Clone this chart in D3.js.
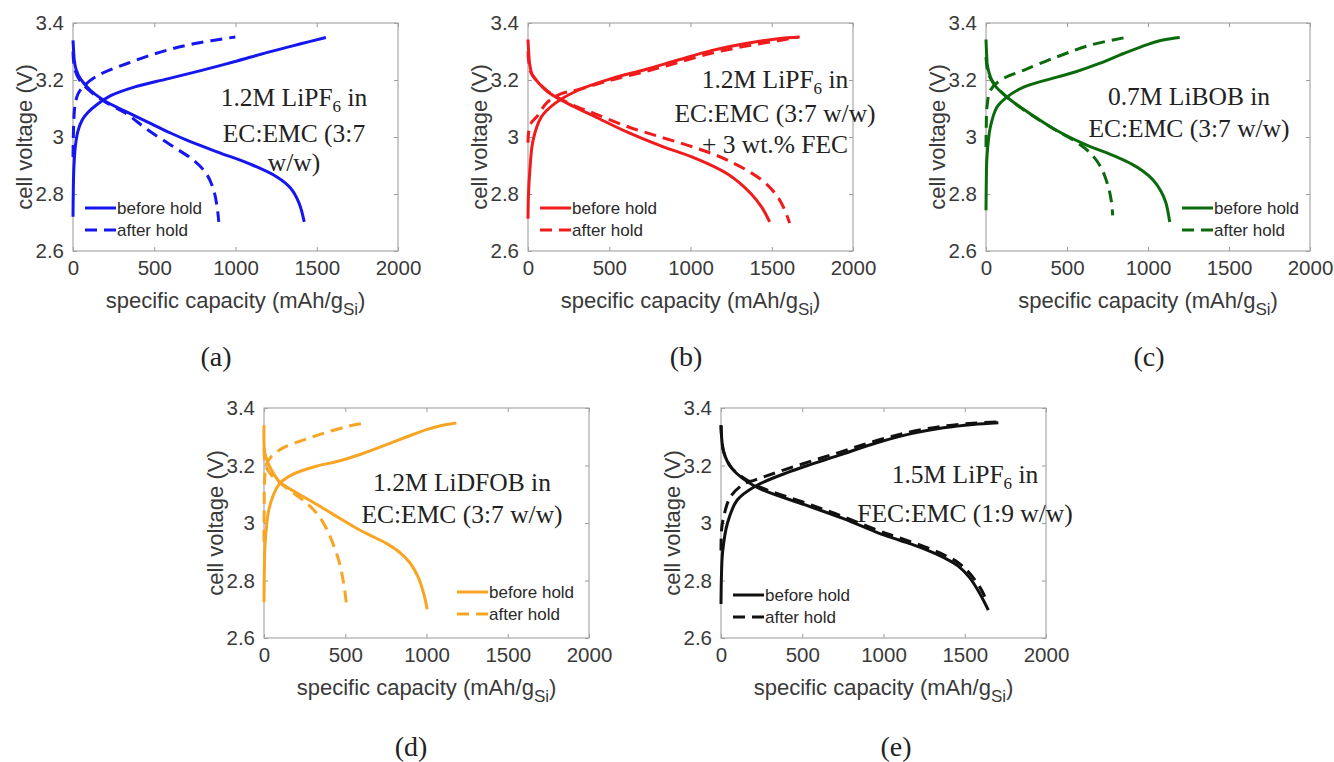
<!DOCTYPE html>
<html><head><meta charset="utf-8">
<script src="https://cdn.jsdelivr.net/npm/d3@7"></script>
<style>body{margin:0;background:#fff}svg{display:block}</style>
</head><body><svg id="chart" width="1334" height="762"></svg>
<script>
// ---------- tick values & labels ----------
const xTicks = [0, 500, 1000, 1500, 2000];
const yTicks = [2.6, 2.8, 3.0, 3.2, 3.4];
const panelLetters = ["(a)", "(b)", "(c)", "(d)", "(e)"];
const seriesNames = ["before hold", "after hold"];
const xTitle = "specific capacity (mAh/g{Si})";
const yTitle = "cell voltage (V)";

// ---------- annotations ({} = subscript) ----------
const aNote = ["1.2M LiPF{6} in", "EC:EMC (3:7", "w/w)"];
const bNote = ["1.2M LiPF{6} in", "EC:EMC (3:7 w/w)", "+ 3 wt.% FEC"];
const cNote = ["0.7M LiBOB in", "EC:EMC (3:7 w/w)"];
const dNote = ["1.2M LiDFOB in", "EC:EMC (3:7 w/w)"];
const eNote = ["1.5M LiPF{6} in", "FEC:EMC (1:9 w/w)"];

// ---------- data: [capacity mAh/g, voltage V] ----------
// (a) 1.2M LiPF6 in EC:EMC
const aBeforeCharge = [[0,2.72],[2,2.82],[6,2.9],[15,2.97],[30,3.02],[55,3.058],[90,3.085],[150,3.115],[232,3.145],[376,3.175],[581,3.204],[786,3.233],[992,3.264],[1197,3.297],[1402,3.327],[1556,3.349]];
const aBeforeDischarge = [[0,3.339],[4,3.30],[8,3.269],[20,3.235],[45,3.205],[107,3.164],[189,3.129],[333,3.087],[497,3.042],[600,3.014],[700,2.989],[886,2.948],[1091,2.905],[1255,2.86],[1337,2.822],[1390,2.77],[1423,2.702]];
const aAfterCharge = [[0,2.93],[4,3.04],[12,3.11],[30,3.15],[60,3.175],[148,3.214],[333,3.258],[538,3.298],[742,3.327],[999,3.351]];
const aAfterDischarge = [[0,3.30],[10,3.24],[40,3.20],[107,3.16],[189,3.126],[333,3.08],[457,3.026],[620,2.965],[743,2.918],[820,2.872],[865,2.815],[887,2.754],[897,2.702]];
// (b) 1.2M LiPF6 + 3% FEC
const bBeforeCharge = [[0,2.713],[3,2.80],[10,2.871],[31,2.988],[82,3.07],[164,3.117],[308,3.164],[513,3.205],[718,3.236],[923,3.27],[1128,3.303],[1333,3.327],[1538,3.345],[1672,3.351]];
const bBeforeDischarge = [[0,3.342],[4,3.30],[10,3.257],[25,3.22],[51,3.199],[123,3.158],[246,3.117],[410,3.072],[615,3.016],[821,2.968],[1026,2.926],[1231,2.869],[1374,2.80],[1440,2.752],[1487,2.702]];
const bAfterCharge = [[0,2.98],[5,3.02],[20,3.05],[52,3.07],[121,3.123],[205,3.152],[308,3.166],[513,3.2],[718,3.229],[923,3.261],[1128,3.294],[1333,3.318],[1538,3.338],[1660,3.35]];
const bAfterDischarge = [[0,3.30],[15,3.23],[51,3.2],[123,3.16],[246,3.12],[410,3.082],[615,3.036],[821,2.999],[1026,2.963],[1231,2.918],[1436,2.85],[1530,2.795],[1579,2.745],[1610,2.698]];
// (c) 0.7M LiBOB
const cBeforeCharge = [[0,2.743],[2,2.85],[6,2.93],[27,3.035],[68,3.105],[129,3.14],[232,3.175],[437,3.21],[550,3.228],[700,3.258],[850,3.293],[1000,3.325],[1100,3.341],[1196,3.349]];
const cBeforeDischarge = [[0,3.342],[4,3.29],[10,3.246],[47,3.187],[129,3.14],[273,3.082],[437,3.023],[601,2.977],[806,2.93],[900,2.905],[970,2.88],[1030,2.85],[1080,2.81],[1110,2.77],[1134,2.702]];
const cAfterCharge = [[0,2.965],[2,3.05],[6,3.105],[27,3.164],[88,3.199],[232,3.234],[437,3.281],[642,3.322],[878,3.351]];
const cAfterDischarge = [[0,3.28],[15,3.22],[47,3.19],[129,3.14],[273,3.08],[437,3.022],[550,2.985],[642,2.945],[710,2.893],[755,2.825],[775,2.77],[782,2.725]];
// (d) 1.2M LiDFOB
const dBeforeCharge = [[0,2.724],[2,2.83],[6,2.92],[27,3.038],[57,3.096],[98,3.138],[180,3.17],[324,3.198],[450,3.214],[600,3.24],[734,3.268],[880,3.3],[1000,3.325],[1100,3.34],[1184,3.348]];
const dBeforeDischarge = [[0,3.34],[6,3.241],[37,3.194],[98,3.142],[201,3.105],[324,3.065],[426,3.03],[550,2.988],[650,2.958],[750,2.93],[830,2.90],[900,2.86],[950,2.81],[985,2.75],[1004,2.70]];
const dAfterCharge = [[0,2.935],[1,3.05],[4,3.15],[12,3.2],[40,3.228],[120,3.262],[250,3.29],[400,3.318],[530,3.338],[631,3.348]];
const dAfterDischarge = [[0,3.26],[10,3.2],[40,3.17],[98,3.14],[180,3.105],[260,3.07],[330,3.03],[385,2.98],[430,2.92],[465,2.86],[490,2.79],[505,2.73],[510,2.70]];
// (e) 1.5M LiPF6 in FEC:EMC
const eBeforeCharge = [[0,2.718],[3,2.82],[10,2.9],[40,3.0],[100,3.08],[211,3.128],[416,3.177],[724,3.235],[959,3.279],[1164,3.31],[1369,3.331],[1550,3.343],[1707,3.349]];
const eBeforeDischarge = [[0,3.34],[5,3.29],[16,3.247],[68,3.189],[211,3.127],[519,3.063],[754,3.015],[970,2.965],[1100,2.94],[1250,2.91],[1369,2.88],[1460,2.85],[1530,2.81],[1594,2.753],[1645,2.697]];
const eAfterCharge = [[0,2.904],[4,2.98],[16,3.02],[57,3.09],[139,3.135],[211,3.15],[416,3.19],[724,3.245],[959,3.287],[1164,3.317],[1369,3.337],[1550,3.347],[1697,3.351]];
const eAfterDischarge = [[0,3.34],[16,3.25],[68,3.19],[211,3.133],[519,3.07],[754,3.022],[970,2.973],[1100,2.948],[1250,2.918],[1369,2.89],[1460,2.862],[1530,2.825],[1600,2.77],[1630,2.735]];

const panelColors = ["#1616ee", "#f01c1c", "#0b6a0b", "#f7a523", "#111111"];

// ---------- layout ----------
const layout = [
  {x:73,  y:23,  w:325, h:228, noteX:294,  noteY:[106,142,171], legX:85,   legY:208, labX:216, labY:366},
  {x:528, y:23,  w:325, h:228, noteX:775,  noteY:[88,122,153],  legX:540,  legY:208, labX:686, labY:366},
  {x:986, y:23,  w:324, h:228, noteX:1189, noteY:[105,137],     legX:1182, legY:208, labX:1149, labY:366},
  {x:264, y:408, w:325, h:230, noteX:462,  noteY:[491,523],     legX:457,  legY:592, labX:411, labY:756},
  {x:721, y:408, w:325, h:230, noteX:965,  noteY:[483,522],     legX:733,  legY:595, labX:896, labY:756}
];

const panels = [
  {before:[aBeforeCharge,aBeforeDischarge], after:[aAfterCharge,aAfterDischarge], note:aNote},
  {before:[bBeforeCharge,bBeforeDischarge], after:[bAfterCharge,bAfterDischarge], note:bNote},
  {before:[cBeforeCharge,cBeforeDischarge], after:[cAfterCharge,cAfterDischarge], note:cNote},
  {before:[dBeforeCharge,dBeforeDischarge], after:[dAfterCharge,dAfterDischarge], note:dNote},
  {before:[eBeforeCharge,eBeforeDischarge], after:[eAfterCharge,eAfterDischarge], note:eNote}
];

const svg = d3.select("#chart");
const SANS = "'Liberation Sans', Arial, sans-serif";
const SERIF = "'Liberation Serif', 'Times New Roman', serif";
const DASH = "12,7";

function richText(sel, str, subSize, shift) {
  const parts = str.split(/(\{[^}]*\})/).filter(s => s.length);
  let prevSub = false;
  parts.forEach(p => {
    const isSub = p.startsWith("{");
    const t = sel.append("tspan").text(isSub ? p.slice(1, -1) : p);
    if (isSub) { t.attr("font-size", subSize).attr("dy", shift); prevSub = true; }
    else if (prevSub) { t.attr("dy", -shift); prevSub = false; }
  });
}

panels.forEach((p, i) => {
  const L = layout[i];
  const col = panelColors[i];
  const x = d3.scaleLinear().domain([0, 2000]).range([L.x, L.x + L.w]);
  const y = d3.scaleLinear().domain([2.6, 3.4]).range([L.y + L.h, L.y]);
  const g = svg.append("g");

  const axB = g.append("g").attr("transform", `translate(0,${L.y + L.h})`)
    .call(d3.axisBottom(x).tickValues(xTicks).tickSizeInner(-4).tickSizeOuter(0).tickPadding(9).tickFormat(d3.format("d")));
  const axT = g.append("g").attr("transform", `translate(0,${L.y})`)
    .call(d3.axisTop(x).tickValues(xTicks).tickSizeInner(-4).tickSizeOuter(0).tickFormat(""));
  const axL = g.append("g").attr("transform", `translate(${L.x},0)`)
    .call(d3.axisLeft(y).tickValues(yTicks).tickSizeInner(-4).tickSizeOuter(0).tickPadding(9).tickFormat(d => d3.format("")(+d.toFixed(1))));
  const axR = g.append("g").attr("transform", `translate(${L.x + L.w},0)`)
    .call(d3.axisRight(y).tickValues(yTicks).tickSizeInner(-4).tickSizeOuter(0).tickFormat(""));
  [axB, axT, axL, axR].forEach(a => {
    a.select(".domain").remove();
    a.selectAll(".tick line").attr("stroke", "#9a9a9a");
    a.selectAll("text").attr("font-family", SANS).attr("font-size", 20.5).attr("fill", "#3a3a3a");
  });
  axB.selectAll("text").attr("dy", "0.71em");
  g.append("rect").attr("x", L.x).attr("y", L.y).attr("width", L.w).attr("height", L.h)
    .attr("fill", "none").attr("stroke", "#a8a8a8").attr("stroke-width", 1.2);

  const xt = g.append("text").attr("x", L.x + L.w / 2).attr("y", L.y + L.h + 57)
    .attr("text-anchor", "middle").attr("font-family", SANS).attr("font-size", 22).attr("fill", "#3a3a3a");
  richText(xt, xTitle, 17, 7);
  g.append("text").attr("transform", `translate(${L.x - 41},${L.y + L.h / 2}) rotate(-90)`)
    .attr("text-anchor", "middle").attr("font-family", SANS).attr("font-size", 22).attr("fill", "#3a3a3a")
    .text(yTitle);

  const line = d3.line().x(d => x(d[0])).y(d => y(d[1])).curve(d3.curveCatmullRom.alpha(0.5));
  p.after.forEach(s => g.append("path").attr("d", line(s)).attr("fill", "none")
    .attr("stroke", col).attr("stroke-width", 3).attr("stroke-dasharray", DASH));
  p.before.forEach(s => g.append("path").attr("d", line(s)).attr("fill", "none")
    .attr("stroke", col).attr("stroke-width", 3));

  p.note.forEach((ln, k) => {
    const t = g.append("text").attr("x", L.noteX).attr("y", L.noteY[k]).attr("text-anchor", "middle")
      .attr("font-family", SERIF).attr("font-size", 25.5).attr("fill", "#222");
    richText(t, ln, 17, 6);
  });

  seriesNames.forEach((nm, k) => {
    const ly = L.legY + k * 22;
    g.append("line").attr("x1", L.legX).attr("x2", L.legX + 31).attr("y1", ly).attr("y2", ly)
      .attr("stroke", col).attr("stroke-width", 3).attr("stroke-dasharray", k === 1 ? DASH : null);
    g.append("text").attr("x", L.legX + 32).attr("y", ly).attr("dy", "0.35em")
      .attr("font-family", SANS).attr("font-size", 17).attr("fill", "#2a2a2a").text(nm);
  });

  svg.append("text").attr("x", L.labX).attr("y", L.labY).attr("text-anchor", "middle")
    .attr("font-family", SERIF).attr("font-size", 28).attr("fill", "#222").text(panelLetters[i]);
});
</script></body></html>
